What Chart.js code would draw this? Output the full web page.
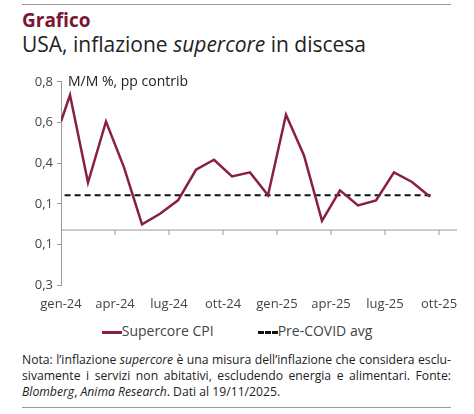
<!DOCTYPE html>
<html><head><meta charset="utf-8">
<script src="https://cdn.jsdelivr.net/npm/chart.js@4"></script>
<style>
body{margin:0;width:474px;height:414px;background:#fff;font-family:"Open Sans",sans-serif;position:relative;overflow:hidden}
.hr{position:absolute;left:22px;width:429px;height:1px;background:#999}
#t1{position:absolute;left:22px;top:7px;font-size:19px;font-weight:bold;color:#7b1530}
#t2{position:absolute;left:22px;top:30px;font-size:21px;color:#222}
#unit{position:absolute;left:68px;top:71px;font-size:14px;color:#222}
#wrap{position:absolute;left:0;top:70px;width:474px;height:245px}
#leg{position:absolute;top:321px;left:0;width:474px;text-align:center;font-size:14px;color:#444}
#leg span{display:inline-block;margin:0 22px}
#note{position:absolute;left:22px;top:352px;width:429px;font-size:12.2px;line-height:16px;color:#222;text-align:justify}
</style></head><body>
<div class="hr" style="top:4px"></div>
<div id="t1">Grafico</div>
<div id="t2">USA, inflazione <i>supercore</i> in discesa</div>
<div id="wrap"><canvas id="c"></canvas></div>
<div id="unit">M/M %, pp contrib</div>
<div id="leg"><span><span style="display:inline-block;margin:0;width:20px;height:3px;background:#8a1f45;vertical-align:middle"></span>Supercore CPI</span><span><span style="display:inline-block;margin:0;width:20px;border-top:3px dashed #111;vertical-align:middle"></span>Pre-COVID avg</span></div>
<div id="note">Nota: l’inflazione <i>supercore</i> è una misura dell’inflazione che considera esclu-sivamente i servizi non abitativi, escludendo energia e alimentari. Fonte: <i>Blomberg</i>, <i>Anima Research</i>. Dati al 19/11/2025.</div>
<div class="hr" style="top:407px"></div>
<script>
const monthPos = [0.5,1.5,2.5,3.5,4.5,5.5,6.5,7.5,8.5,9.5,10.5,11.5,12.5,13.5,14.5,15.5,16.5,17.5,18.5,19.5,20.5];
const supercore = [0.735,0.305,0.605,0.38,0.10,0.152,0.218,0.368,0.417,0.335,0.355,0.243,0.638,0.438,0.117,0.267,0.193,0.217,0.355,0.308,0.235];
const startValue = 0.605;
const preCovid = 0.243;
const xTickLabels = ["gen-24","apr-24","lug-24","ott-24","gen-25","apr-25","lug-25","ott-25"];
const yTickLabels = ["0,3","0,1","0,1","0,4","0,6","0,8"];
const axisCross = 0.072;

const lineData = [{x:0,y:startValue}].concat(monthPos.map((x,i)=>({x,y:supercore[i]})));
const axisPlugin = {id:'ax',afterDatasetsDraw(ch){
  const c=ch.ctx,x=ch.scales.x,y=ch.scales.y;const yp=y.getPixelForValue(axisCross);
  c.save();c.strokeStyle='#999';c.lineWidth=1;c.beginPath();
  c.moveTo(x.left,yp);c.lineTo(x.right,yp);
  for(let i=1;i<xTickLabels.length;i++){const xp=x.getPixelForValue(i*3);c.moveTo(xp,yp);c.lineTo(xp,yp+5);}
  c.stroke();c.restore();
}};
new Chart(document.getElementById('c'),{
  type:'line',
  data:{datasets:[
    {data:lineData,borderColor:'#8a1f45',borderWidth:2.5,pointRadius:0,tension:0},
    {data:[{x:0.2,y:preCovid},{x:20.7,y:preCovid}],borderColor:'#111',borderWidth:2,borderDash:[6,4],pointRadius:0}
  ]},
  options:{animation:false,responsive:true,maintainAspectRatio:false,
    layout:{padding:{top:11,right:17,bottom:0,left:0}},
    plugins:{legend:{display:false},tooltip:{enabled:false}},
    scales:{
      x:{type:'linear',min:0,max:22,grid:{display:false},border:{display:false},
        afterBuildTicks(s){s.ticks=xTickLabels.map((_,i)=>({value:i*3}));},
        ticks:{padding:3,maxRotation:0,autoSkip:false,color:'#444',font:{family:'Open Sans',size:13},callback:(v)=>xTickLabels[v/3]}},
      y:{min:-0.2,max:0.8,afterFit(s){s.width=61;},
        grid:{drawOnChartArea:false,tickLength:4,color:'#999'},border:{color:'#999'},
        ticks:{stepSize:0.2,padding:4,color:'#444',font:{family:'Open Sans',size:13},callback:(v,i)=>yTickLabels[i]}}
    }},
  plugins:[axisPlugin]
});
</script></body></html>
